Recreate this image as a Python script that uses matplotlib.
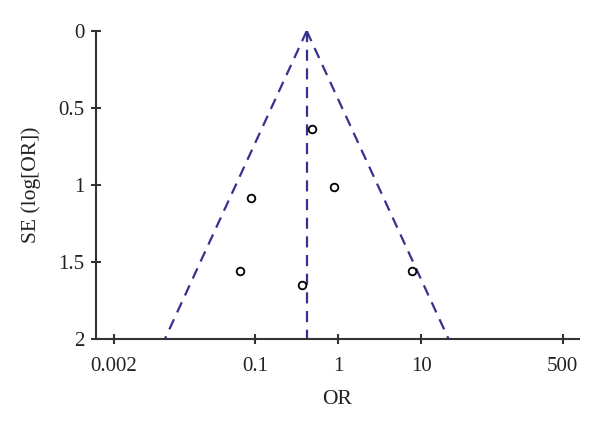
import numpy as np
import matplotlib
matplotlib.use("Agg")
import matplotlib.pyplot as plt

# Study estimates
or_values = [0.483, 0.885, 0.0903, 0.0656, 0.367, 7.64]
se_values = [0.638, 1.017, 1.087, 1.562, 1.653, 1.562]
pooled_or = 0.42
se_max = 2.0
x_ticks = [0.002, 0.1, 1, 10, 500]
x_tick_labels = ["0.002", "0.1", "1", "10", "500"]
y_ticks = [0, 0.5, 1, 1.5, 2]
y_tick_labels = ["0", "0.5", "1", "1.5", "2"]

plt.rcParams['font.family'] = ['Liberation Serif', 'DejaVu Serif']

fig = plt.figure(figsize=(6, 4.25), dpi=100)
ax = fig.add_axes([0.16, 0.2035, 0.805, 0.7235])

line_color = '#36318f'
dash = (5.0, 3.4)

# funnel
se_line = np.array([0.0, se_max])
left = np.exp(np.log(pooled_or) - 1.96 * se_line)
right = np.exp(np.log(pooled_or) + 1.96 * se_line)
ax.plot(left, se_line, color=line_color, lw=1.6, dashes=dash)
ax.plot(right, se_line, color=line_color, lw=1.6, dashes=dash)
ax.plot([pooled_or, pooled_or], [0, se_max], color=line_color, lw=1.6, dashes=dash)

ax.plot(or_values, se_values, linestyle='none', marker='o', markersize=5.5,
        markerfacecolor='white', markeredgecolor='black', markeredgewidth=1.3, zorder=3)

ax.set_xscale('log')
ax.set_xlim(0.00123, 788)
ax.set_ylim(2, 0)
ax.set_xticks(x_ticks)
ax.set_xticklabels(x_tick_labels)
ax.minorticks_off()
ax.set_yticks(y_ticks)
ax.set_yticklabels(y_tick_labels)

for s in ['top', 'right']:
    ax.spines[s].set_visible(False)
for s in ['left', 'bottom']:
    ax.spines[s].set_color('#333333')
    ax.spines[s].set_linewidth(1.5)

ax.tick_params(axis='both', direction='inout', length=7, width=1.5, color='#333333',
               labelsize=15, labelcolor='#222222')
ax.tick_params(axis='x', pad=10)
ax.tick_params(axis='y', pad=5)

ax.set_xlabel('OR', fontsize=15.5, color='#222222', labelpad=10)
ax.set_ylabel('SE (log[OR])', fontsize=15.5, color='#222222', labelpad=12)

fig.savefig('out.png', dpi=100)
